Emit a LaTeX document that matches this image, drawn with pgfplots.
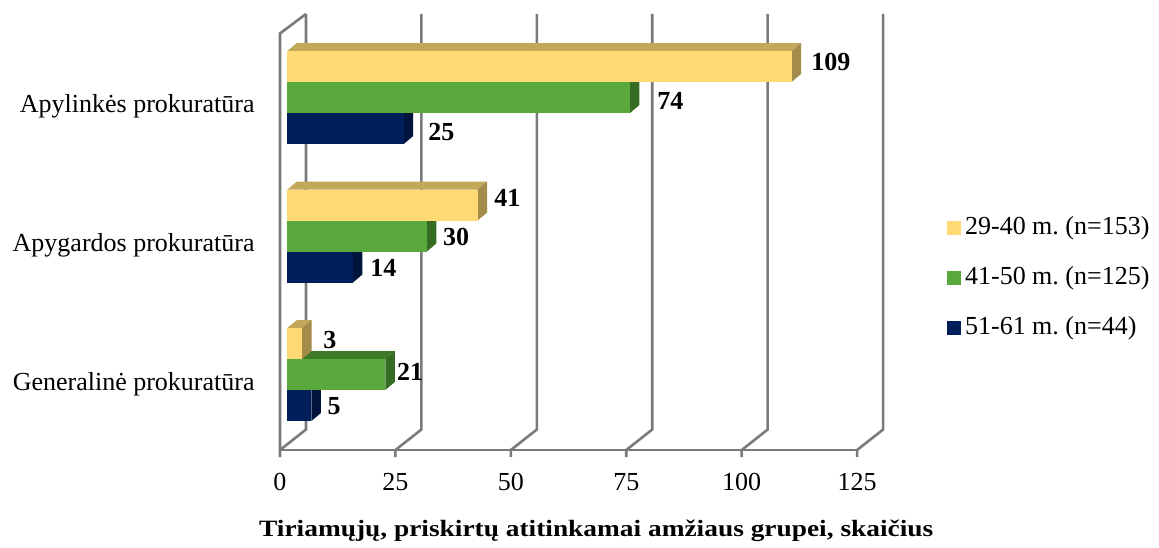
\documentclass[border=0pt]{standalone}
\usepackage{pgfplots}
\pgfplotsset{compat=1.18}
\usepackage{pgfplotstable}
\usepackage{fontspec}
\setmainfont{Liberation Serif}
\definecolor{yF}{RGB}{255,217,115}
\definecolor{yT}{RGB}{196,168,90}
\definecolor{yS}{RGB}{163,140,74}
\definecolor{gF}{RGB}{88,168,60}
\definecolor{gT}{RGB}{62,122,40}
\definecolor{gS}{RGB}{54,108,34}
\definecolor{bF}{RGB}{0,30,90}
\definecolor{bT}{RGB}{0,22,66}
\definecolor{bS}{RGB}{0,20,60}
\definecolor{gridc}{RGB}{122,122,122}

% rows: 0 = Generaline, 1 = Apygardos, 2 = Apylinkes
% a = 29-40 m., b = 41-50 m., c = 51-61 m.
\pgfplotstableread{
g a b c
0 3 21 5
1 41 30 14
2 109 74 25
}\bars

\pgfplotstableread{
x y t
115.0 388 109
81.65 349 74
32.05 317.5 25
46.35 252 41
35.24 213.5 30
19.49 182 14
9.31 109.5 3
25.28 78 21
10.24 43.5 5
}\labels

\newcommand\barthreed[5]{%
  \pgfmathsetmacro\bxA{1.6}%
  \pgfmathsetmacro\bxB{1.8+#1}%
  \pgfmathsetmacro\bxC{\bxB+2.06}%
  \pgfmathsetmacro\bxD{\bxA+2.06}%
  \pgfmathsetmacro\byA{#2}%
  \pgfmathsetmacro\byB{#2+31}%
  \pgfmathsetmacro\byC{#2+8}%
  \pgfmathsetmacro\byD{#2+39}%
  \addplot[fill=#4,draw=none,forget plot] coordinates {(\bxA,\byB) (\bxB,\byB) (\bxC,\byD) (\bxD,\byD)};
  \addplot[fill=#5,draw=none,forget plot] coordinates {(\bxB,\byA) (\bxC,\byC) (\bxC,\byD) (\bxB,\byB)};
  \addplot[fill=#3,draw=none,forget plot] coordinates {(\bxA,\byA) (\bxB,\byA) (\bxB,\byB) (\bxA,\byB)};
}

\begin{document}
\frenchspacing
\fontsize{13pt}{15.6pt}\selectfont
\begin{tikzpicture}
\useasboundingbox (-140pt,-48.5pt) rectangle (439.5pt,225pt);
\begin{axis}[
  at={(0,0)}, anchor=south west,
  scale only axis, width=302.41pt, height=218pt,
  xmin=0, xmax=131, ymin=0, ymax=436,
  clip=false,
  axis line style={draw=none},
  major tick style={draw=none},
  xtick={0,25,50,75,100,125},
  xticklabels={0,25,50,75,100,125},
  xticklabel style={inner sep=0pt, anchor=north, yshift=-11.5pt},
  ytick={60,199,338},
  yticklabels={Generalinė prokuratūra, Apygardos prokuratūra, Apylinkės prokuratūra},
  yticklabel style={anchor=base east, inner sep=0pt, xshift=-12.5pt},
  xlabel={\scalebox{1.053}[0.9]{\bfseries Tiriamųjų, priskirtų atitinkamai amžiaus grupei, skaičius}},
  xlabel style={at={(rel axis cs:0.5229,-0.1989)}, anchor=base, inner sep=0pt},
  legend image code/.code={\fill[#1] (0pt,-3.5pt) rectangle (7pt,3.5pt);},
  legend style={draw=none, fill=none, at={(axis cs:144.4,172.3)}, anchor=west,
    inner sep=0pt, row sep=10pt, legend cell align=left},
]
% walls and floor
\addplot[gridc, line width=1.3pt, forget plot] coordinates {(0,0) (125,0)};
\addplot[gridc, line width=1.3pt, forget plot] coordinates {(0,-7) (0,0) (0,416.5) (5.63,436)};
\addplot[gridc, line width=1.3pt, forget plot] coordinates {(0,0) (5.63,20.5) (5.63,436)};
\addplot[gridc, line width=1.3pt, forget plot] coordinates {(25,-7) (25,0) (30.63,20.5) (30.63,436)};
\addplot[gridc, line width=1.3pt, forget plot] coordinates {(50,-7) (50,0) (55.63,20.5) (55.63,436)};
\addplot[gridc, line width=1.3pt, forget plot] coordinates {(75,-7) (75,0) (80.63,20.5) (80.63,436)};
\addplot[gridc, line width=1.3pt, forget plot] coordinates {(100,-7) (100,0) (105.63,20.5) (105.63,436)};
\addplot[gridc, line width=1.3pt, forget plot] coordinates {(125,-7) (125,0) (130.63,20.5) (130.63,436)};
% bars
\pgfplotsforeachungrouped \r in {0,1,2}{%
  \pgfmathsetmacro\gbase{29+138.5*\r}%
  \pgfplotstablegetelem{\r}{c}\of\bars \let\vc\pgfplotsretval
  \pgfplotstablegetelem{\r}{b}\of\bars \let\vb\pgfplotsretval
  \pgfplotstablegetelem{\r}{a}\of\bars \let\va\pgfplotsretval
  \barthreed{\vc}{\gbase}{bF}{bT}{bS}%
  \barthreed{\vb}{\gbase+31}{gF}{gT}{gS}%
  \barthreed{\va}{\gbase+62}{yF}{yT}{yS}%
}
% data labels
\addplot[draw=none, mark=none, forget plot, nodes near coords, point meta=explicit symbolic,
  nodes near coords style={anchor=west, inner sep=0pt, font=\bfseries}] table[meta=t] {\labels};
\addlegendimage{fill=yF, draw=none}
\addlegendentry{29-40 m. (n=153)}
\addlegendimage{fill=gF, draw=none}
\addlegendentry{41-50 m. (n=125)}
\addlegendimage{fill=bF, draw=none}
\addlegendentry{51-61 m. (n=44)}
\end{axis}
\end{tikzpicture}
\end{document}
